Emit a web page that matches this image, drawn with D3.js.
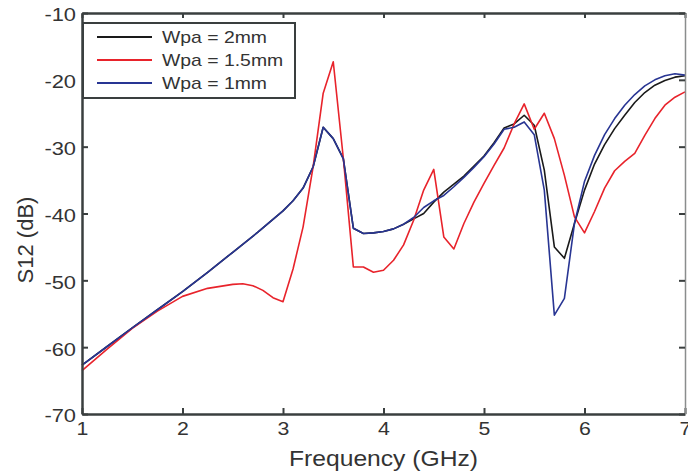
<!DOCTYPE html>
<html>
<head>
<meta charset="utf-8">
<script src="https://cdn.jsdelivr.net/npm/d3@7"></script>
<style>
  body { margin: 0; background: #fff; }
  svg { display: block; font-family: "Liberation Sans", Arial, sans-serif; }
</style>
</head>
<body>
<div id="chart"></div>
<script>
// frequencies (GHz) sampled by the 2mm and 1mm curves
var freq = [1.0, 1.25, 1.5, 1.75, 2.0, 2.25, 2.5, 2.75, 3.0, 3.1, 3.2, 3.3, 3.4, 3.5, 3.6, 3.7, 3.8, 3.9,
            4.0, 4.1, 4.2, 4.3, 4.4, 4.5, 4.6, 4.7, 4.8, 4.9, 5.0, 5.1, 5.2, 5.3, 5.4, 5.5, 5.6, 5.7,
            5.8, 5.9, 6.0, 6.1, 6.2, 6.3, 6.4, 6.5, 6.6, 6.7, 6.8, 6.9, 7.0];
var s12_2mm = [-62.7, -59.9, -57.1, -54.4, -51.7, -48.8, -45.8, -42.8, -39.6, -38.1, -36.2, -33.0, -27.1, -28.8, -31.8, -42.2, -43.0, -42.9,
               -42.7, -42.3, -41.6, -40.8, -40.0, -38.3, -36.8, -35.6, -34.4, -32.9, -31.4, -29.4, -27.2, -26.6, -25.3, -26.8, -33.5, -45.0,
               -46.7, -41.5, -36.5, -32.6, -29.7, -27.3, -25.3, -23.4, -21.9, -20.8, -20.1, -19.6, -19.4];
var s12_1mm = [-62.7, -59.9, -57.1, -54.4, -51.7, -48.8, -45.8, -42.8, -39.6, -38.1, -36.2, -33.0, -27.1, -28.8, -31.8, -42.2, -43.0, -42.9,
               -42.7, -42.3, -41.6, -40.6, -39.1, -38.1, -37.3, -36.0, -34.6, -33.1, -31.5, -29.6, -27.4, -27.1, -26.3, -28.2, -36.5, -55.2,
               -52.7, -41.5, -35.2, -31.3, -28.2, -25.8, -23.8, -22.2, -20.9, -20.0, -19.4, -19.1, -19.3];

// frequencies (GHz) sampled by the 1.5mm curve
var freqRed = [1.0, 1.25, 1.5, 1.75, 2.0, 2.25, 2.5, 2.6, 2.7, 2.8, 2.9, 3.0, 3.1, 3.2, 3.3, 3.4, 3.5, 3.6, 3.7, 3.8, 3.9,
               4.0, 4.1, 4.2, 4.3, 4.4, 4.5, 4.6, 4.7, 4.8, 4.9, 5.0, 5.1, 5.2, 5.3, 5.4, 5.5, 5.6, 5.7,
               5.8, 5.9, 6.0, 6.1, 6.2, 6.3, 6.4, 6.5, 6.6, 6.7, 6.8, 6.9, 7.0];
var s12_15mm = [-63.5, -60.3, -57.2, -54.6, -52.4, -51.2, -50.6, -50.5, -50.8, -51.5, -52.6, -53.2, -48.3, -42.0, -33.0, -22.0, -17.3, -31.7, -48.0, -48.0, -48.8,
                -48.5, -47.0, -44.7, -41.0, -36.5, -33.4, -43.5, -45.3, -41.5, -38.3, -35.5, -32.8, -30.2, -26.6, -23.6, -27.4, -25.0, -28.8,
                -34.3, -40.5, -42.9, -39.7, -36.2, -33.6, -32.2, -31.0, -28.3, -25.8, -23.8, -22.6, -21.8];

var xTicks = [1, 2, 3, 4, 5, 6, 7];
var yTicks = [-70, -60, -50, -40, -30, -20, -10];
var seriesNames = ['Wpa = 2mm', 'Wpa = 1.5mm', 'Wpa = 1mm'];
var seriesColors = ['#1a1a1a', '#e8232b', '#283593'];

var width = 688, height = 471;
var plotLeft = 82, plotRight = 685, plotTop = 13, plotBottom = 414;
var textColor = '#333';
var axisColor = '#3a3f3f';

var svg = d3.select('#chart').append('svg')
            .attr('width', width)
            .attr('height', height);

var x = d3.scaleLinear().domain([1, 7]).range([plotLeft, plotRight]);
var y = d3.scaleLinear().domain([-70, -10]).range([plotBottom, plotTop]);

// widen text a little, the original figure is stretched sideways
function stretch(sel, k){
    sel.each(function(){
        var w = this.getComputedTextLength();
        d3.select(this).attr('textLength', w*k).attr('lengthAdjust', 'spacingAndGlyphs');
    });
}

// plain hyphen for negatives, like the original
function plainNum(d){ return String(d); }

var series = [
    {name: seriesNames[0], color: seriesColors[0], xs: freq, ys: s12_2mm},
    {name: seriesNames[1], color: seriesColors[1], xs: freqRed, ys: s12_15mm},
    {name: seriesNames[2], color: seriesColors[2], xs: freq, ys: s12_1mm}
];

var line = d3.line()
             .x(function(d){return x(d[0]);})
             .y(function(d){return y(d[1]);});

svg.selectAll('path.curve')
   .data(series)
   .enter()
   .append('path')
   .attr('class', 'curve')
   .attr('d', function(s){return line(d3.zip(s.xs, s.ys));})
   .attr('fill', 'none')
   .attr('stroke', function(s){return s.color;})
   .attr('stroke-width', 1.6)
   .attr('stroke-linejoin', 'round');

// axes, ticks pointing inward on all four sides
var xBottom = svg.append('g')
                 .attr('transform', 'translate(0,' + plotBottom + ')')
                 .call(d3.axisBottom(x).tickValues(xTicks).tickFormat(plainNum)
                         .tickSizeInner(-6).tickSizeOuter(0).tickPadding(8));
var yLeft = svg.append('g')
               .attr('transform', 'translate(' + plotLeft + ',0)')
               .call(d3.axisLeft(y).tickValues(yTicks).tickFormat(plainNum)
                       .tickSizeInner(-6).tickSizeOuter(0).tickPadding(6));
var xTop = svg.append('g')
              .attr('transform', 'translate(0,' + plotTop + ')')
              .call(d3.axisTop(x).tickValues(xTicks).tickFormat('')
                      .tickSizeInner(-5).tickSizeOuter(0));
var yRight = svg.append('g')
                .attr('transform', 'translate(' + plotRight + ',0)')
                .call(d3.axisRight(y).tickValues(yTicks).tickFormat('')
                        .tickSizeInner(-6).tickSizeOuter(0));

[xBottom, yLeft, xTop].forEach(function(g){
    g.select('.domain').attr('stroke', axisColor).attr('stroke-width', 2.5);
    g.selectAll('.tick line').attr('stroke', axisColor).attr('stroke-width', 2);
});
yRight.select('.domain').attr('stroke', '#8a8d8d').attr('stroke-width', 1.5);
yRight.selectAll('.tick line').attr('stroke', axisColor).attr('stroke-width', 2);

[xBottom, yLeft].forEach(function(g){
    g.selectAll('.tick text')
     .attr('fill', textColor)
     .style('font-size', '19px')
     .style('font-family', '"Liberation Sans", Arial, sans-serif');
});
yLeft.selectAll('.tick text').attr('dy', '0.42em');
stretch(xBottom.selectAll('.tick text'), 1.12);
stretch(yLeft.selectAll('.tick text'), 1.15);

// axis titles
var xTitle = svg.append('text')
                .attr('x', (plotLeft + plotRight)/2)
                .attr('y', 466)
                .attr('text-anchor', 'middle')
                .attr('fill', textColor)
                .style('font-size', '22px')
                .text('Frequency (GHz)');
stretch(xTitle, 1.12);

svg.append('text')
   .attr('transform', 'translate(33,240) rotate(-90)')
   .attr('text-anchor', 'middle')
   .attr('fill', textColor)
   .style('font-size', '22px')
   .text('S12 (dB)');

// legend
var legend = svg.append('g');
legend.append('rect')
      .attr('x', 83)
      .attr('y', 23)
      .attr('width', 212)
      .attr('height', 75)
      .attr('fill', '#fff')
      .attr('stroke', axisColor)
      .attr('stroke-width', 2);

var rows = legend.selectAll('g.row')
                 .data(series)
                 .enter()
                 .append('g')
                 .attr('transform', function(d, i){return 'translate(0,' + (37 + i*23) + ')';});
rows.append('line')
    .attr('x1', 97).attr('x2', 152)
    .attr('y1', 0).attr('y2', 0)
    .attr('stroke', function(d){return d.color;})
    .attr('stroke-width', 2);
var rowText = rows.append('text')
                  .attr('x', 162)
                  .attr('y', 0)
                  .attr('dy', '0.36em')
                  .attr('fill', textColor)
                  .style('font-size', '17px')
                  .text(function(d){return d.name;});
stretch(rowText, 1.14);
</script>
</body>
</html>
